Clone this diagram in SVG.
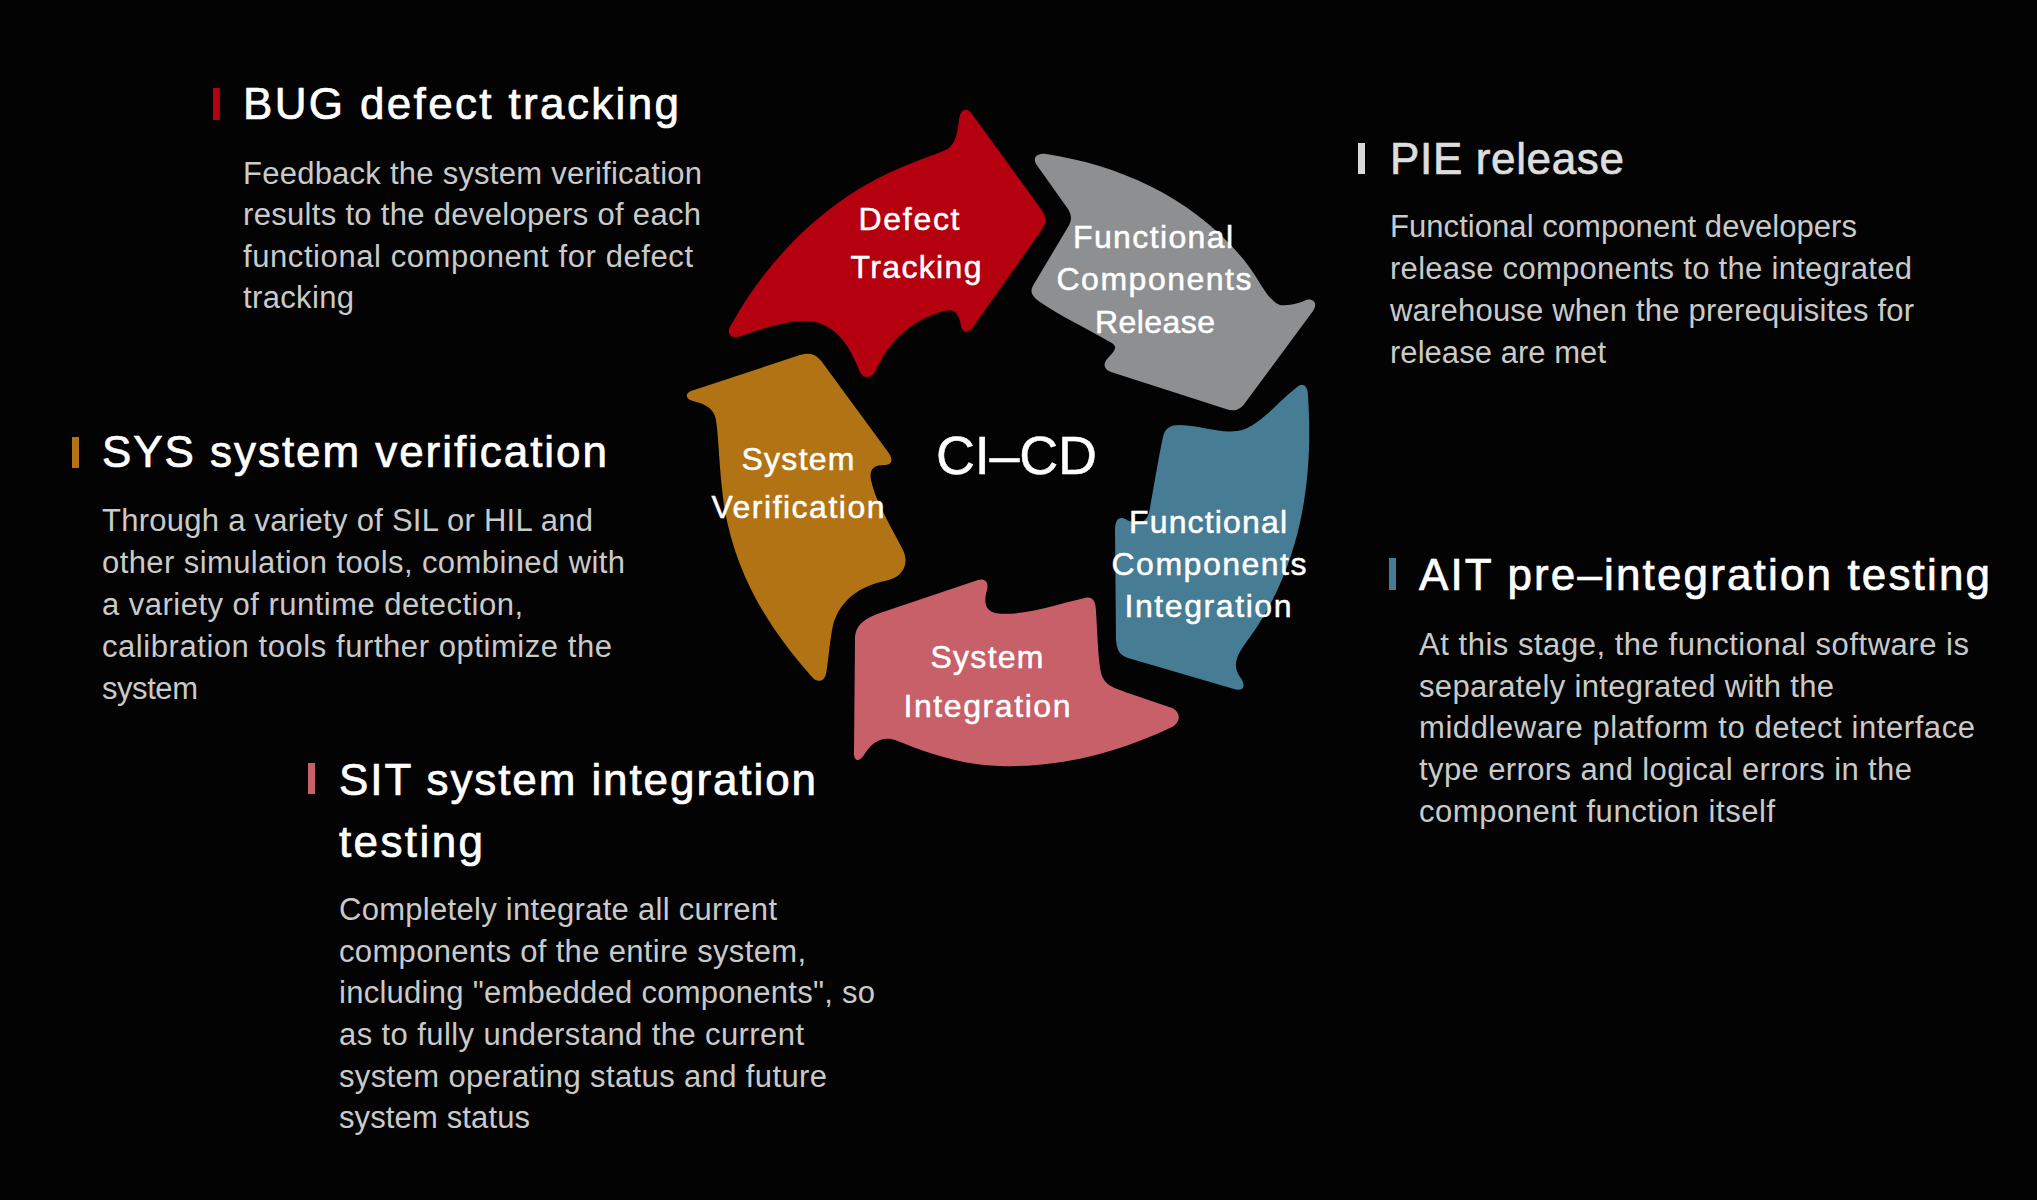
<svg xmlns="http://www.w3.org/2000/svg" width="2037" height="1200" viewBox="0 0 2037 1200">
<style>
.title{font-family:"Liberation Sans",Arial,sans-serif;font-size:44px;fill:#ffffff;stroke:#ffffff;stroke-width:0.7px;}
.body{font-family:"Liberation Sans",Arial,sans-serif;font-size:31px;fill:#cacaca;}
.lbl{font-family:"Liberation Sans",Arial,sans-serif;font-size:32px;fill:#ffffff;stroke:#ffffff;stroke-width:0.5px;text-anchor:middle;}
.center{font-family:"Liberation Sans",Arial,sans-serif;font-size:54px;fill:#ffffff;stroke:#ffffff;stroke-width:0.5px;}
</style>
<rect x="0" y="0" width="2037" height="1200" fill="#030303"/>

<g id="connectors"></g>

<g id="node-defect-tracking">
<path fill="#b5000f" d="M 738,337 C 730,339 726,332 731,325 C 768,258 828,198 900,168 C 925,157 945,152 950,147 C 957,140 958,128 959,120 C 960,110 966,106 972,114 L 1041,209 C 1047,217 1047,223 1041,231 L 973,327 C 968,334 962,333 961,326 C 959,314 955,308 944,311 C 912,320 890,340 877,368 C 873,378 864,380 860,372 C 851,350 840,328 815,322 C 795,318 770,326 738,337 Z"/>
<text class="lbl" x="909" y="230" textLength="101" lengthAdjust="spacing">Defect</text>
<text class="lbl" x="916" y="278" textLength="131" lengthAdjust="spacing">Tracking</text>
</g>

<g id="node-components-release">
<path fill="#8e8f91" d="M 1046,154 C 1120,165 1200,200 1250,268 C 1262,285 1268,300 1280,305 C 1290,306 1300,303 1306,300 C 1314,298 1318,304 1313,311 L 1245,403 C 1240,410 1234,412 1226,409 L 1111,372 C 1103,369 1103,363 1108,358 C 1116,350 1118,346 1110,342 C 1090,330 1060,316 1040,302 C 1030,295 1030,290 1034,284 L 1068,227 C 1072,220 1072,216 1068,209 L 1036,164 C 1032,157 1038,153 1046,154 Z"/>
<text class="lbl" x="1153" y="248" textLength="160" lengthAdjust="spacing">Functional</text>
<text class="lbl" x="1154" y="290" textLength="195" lengthAdjust="spacing">Components</text>
<text class="lbl" x="1155" y="333" textLength="120" lengthAdjust="spacing">Release</text>
</g>

<g id="node-components-integration">
<path fill="#467d94" d="M 1296,388 C 1303,381 1308,386 1308,396 C 1313,470 1305,560 1250,637 C 1238,653 1231,664 1240,677 C 1247,686 1243,692 1234,689 L 1128,658 C 1119,655 1117,650 1116,640 L 1115,530 C 1115,520 1119,515 1127,520 C 1140,526 1148,522 1150,508 C 1155,480 1160,450 1163,437 C 1165,428 1170,425 1180,425 C 1205,426 1225,436 1245,429 C 1265,420 1280,400 1296,388 Z"/>
<text class="lbl" x="1208" y="533" textLength="158" lengthAdjust="spacing">Functional</text>
<text class="lbl" x="1209" y="575" textLength="195" lengthAdjust="spacing">Components</text>
<text class="lbl" x="1208" y="617" textLength="167" lengthAdjust="spacing">Integration</text>
</g>

<g id="node-system-integration">
<path fill="#c8606a" d="M 880,613 L 978,580 C 985,578 989,582 987,590 C 984,600 984,610 995,613 C 1020,617 1050,606 1085,598 C 1093,596 1096,602 1096,612 C 1098,640 1098,668 1103,678 C 1107,686 1115,688 1125,692 L 1172,708 C 1181,712 1181,722 1172,727 C 1120,752 1060,768 1000,766 C 960,765 925,752 895,740 C 880,735 870,745 864,755 C 858,764 853,760 854,750 L 855,640 C 855,628 860,620 880,613 Z"/>
<text class="lbl" x="987" y="668" textLength="113" lengthAdjust="spacing">System</text>
<text class="lbl" x="987" y="717" textLength="167" lengthAdjust="spacing">Integration</text>
</g>

<g id="node-system-verification">
<path fill="#b27315" d="M 694,390 L 800,355 C 810,352 816,354 822,362 L 888,452 C 894,460 892,465 884,465 C 874,465 869,469 871,480 C 875,500 890,525 903,550 C 910,565 902,578 885,581 C 860,586 840,600 833,625 C 829,645 828,665 826,674 C 824,682 817,683 812,677 C 770,630 735,575 724,505 C 719,470 719,440 716,420 C 714,408 705,404 693,401 C 684,399 685,392 694,390 Z"/>
<text class="lbl" x="798" y="470" textLength="113" lengthAdjust="spacing">System</text>
<text class="lbl" x="798" y="518" textLength="173" lengthAdjust="spacing">Verification</text>
</g>

<g id="node-center">
<text class="center" x="936" y="474" textLength="161" lengthAdjust="spacing">CI–CD</text>
</g>

<g id="node-bug">
<rect x="213" y="88" width="7" height="32" fill="#b5000f"/>
<text class="title" x="243" y="119" textLength="436" lengthAdjust="spacing">BUG defect tracking</text>
<text class="body" x="243" y="184" textLength="459" lengthAdjust="spacing">Feedback the system verification</text>
<text class="body" x="243" y="225" textLength="458" lengthAdjust="spacing">results to the developers of each</text>
<text class="body" x="243" y="267" textLength="450" lengthAdjust="spacing">functional component for defect</text>
<text class="body" x="243" y="308" textLength="111" lengthAdjust="spacing">tracking</text>
</g>

<g id="node-sys">
<rect x="72" y="437" width="7" height="31" fill="#b27315"/>
<text class="title" x="102" y="467" textLength="505" lengthAdjust="spacing">SYS system verification</text>
<text class="body" x="102" y="531" textLength="491" lengthAdjust="spacing">Through a variety of SIL or HIL and</text>
<text class="body" x="102" y="573" textLength="523" lengthAdjust="spacing">other simulation tools, combined with</text>
<text class="body" x="102" y="615" textLength="421" lengthAdjust="spacing">a variety of runtime detection,</text>
<text class="body" x="102" y="657" textLength="510" lengthAdjust="spacing">calibration tools further optimize the</text>
<text class="body" x="102" y="699" textLength="96" lengthAdjust="spacing">system</text>
</g>

<g id="node-sit">
<rect x="308" y="763" width="7" height="31" fill="#c8606a"/>
<text class="title" x="339" y="795" textLength="477" lengthAdjust="spacing">SIT system integration</text>
<text class="title" x="339" y="857" textLength="144" lengthAdjust="spacing">testing</text>
<text class="body" x="339" y="920" textLength="438" lengthAdjust="spacing">Completely integrate all current</text>
<text class="body" x="339" y="962" textLength="467" lengthAdjust="spacing">components of the entire system,</text>
<text class="body" x="339" y="1003" textLength="536" lengthAdjust="spacing">including "embedded components", so</text>
<text class="body" x="339" y="1045" textLength="465" lengthAdjust="spacing">as to fully understand the current</text>
<text class="body" x="339" y="1087" textLength="488" lengthAdjust="spacing">system operating status and future</text>
<text class="body" x="339" y="1128" textLength="191" lengthAdjust="spacing">system status</text>
</g>

<g id="node-pie">
<rect x="1358" y="143" width="7" height="31" fill="#d9d9d9"/>
<text class="title" x="1390" y="174" textLength="234" lengthAdjust="spacing" style="fill:#dedede;stroke:#dedede">PIE release</text>
<text class="body" x="1390" y="237" textLength="467" lengthAdjust="spacing">Functional component developers</text>
<text class="body" x="1390" y="279" textLength="522" lengthAdjust="spacing">release components to the integrated</text>
<text class="body" x="1390" y="321" textLength="524" lengthAdjust="spacing">warehouse when the prerequisites for</text>
<text class="body" x="1390" y="363" textLength="216" lengthAdjust="spacing">release are met</text>
</g>

<g id="node-ait">
<rect x="1389" y="558" width="7" height="32" fill="#467d94"/>
<text class="title" x="1419" y="590" textLength="571" lengthAdjust="spacing">AIT pre–integration testing</text>
<text class="body" x="1419" y="655" textLength="550" lengthAdjust="spacing">At this stage, the functional software is</text>
<text class="body" x="1419" y="697" textLength="415" lengthAdjust="spacing">separately integrated with the</text>
<text class="body" x="1419" y="738" textLength="556" lengthAdjust="spacing">middleware platform to detect interface</text>
<text class="body" x="1419" y="780" textLength="493" lengthAdjust="spacing">type errors and logical errors in the</text>
<text class="body" x="1419" y="822" textLength="356" lengthAdjust="spacing">component function itself</text>
</g>
</svg>
